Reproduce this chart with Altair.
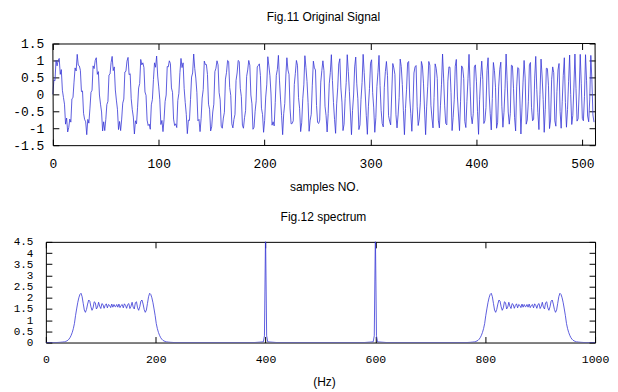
import altair as alt
import pandas as pd

# ---------------- data ----------------
signal = [
    0.00, .43, .40, 1.00, .84, 1.00, 1.06, .59, .73, .12, -.09, -.29, -.88, -.70, -1.11, -.98, -.73, -.82, -.13, -.10,
    .36, .78, .69, 1.18, .86, .84, .71, .08, .10, -.56, -.74, -.81, -1.19, -.74, -.85, -.43, .06, .12, .84, .76,
    1.00, 1.08, .59, .67, -.02, -.29, -.52, -1.08, -.81, -1.07, -.74, -.30, -.21, .57, .60, .94, 1.12, .70, .81, .13,
    -.17, -.44, -1.04, -.80, -1.07, -.73, -.26, -.14, .66, .68, .98, 1.09, .58, .61, -.13, -.45, -.67, -1.17, -.78, -.87,
    -.38, .19, .32, 1.03, .87, .93, .79, .07, -.03, -.76, -.92, -.88, -1.03, -.31, -.15, .44, .93, .80, 1.13, .54,
    .22, -.16, -.89, -.77, -1.10, -.75, -.21, -.02, .82, .81, .99, .91, .19, .06, -.73, -.92, -.87, -.98, -.18, .03,
    .64, 1.06, .79, .93, .17, -.24, -.59, -1.16, -.76, -.77, -.15, .51, .63, 1.19, .76, .48, .06, -.78, -.74, -1.10,
    -.72, -.11, .14, .98, .88, .88, .59, -.29, -.44, -1.08, -.96, -.52, -.29, .67, .77, .99, .87, .05, -.16, -.94,
    -1.00, -.70, -.53, .45, .65, 1.00, .97, .20, -.03, -.87, -.99, -.74, -.59, .41, .63, 1.00, .97, .18, -.07, -.91,
    -1.00, -.69, -.48, .53, .72, 1.00, .86, -.02, -.28, -1.03, -.97, -.50, -.19, .81, .85, .90, .56, -.41, -.59, -1.12,
    -.77, -.08, .28, 1.11, .84, .55, .01, -.91, -.81, -.93, -.24, .56, .73, 1.15, .42, -.14, -.63, -1.19, -.57, -.27,
    .54, 1.08, .72, .59, -.43, -.87, -.86, -.78, .29, .62, 1.00, .86, -.10, -.41, -1.10, -.84, -.13, .28, 1.14, .79,
    .38, -.24, -1.09, -.76, -.59, .27, .98, .78, .72, -.33, -.83, -.86, -.76, .36, .70, .99, .70, -.35, -.63, -1.11,
    -.57, .31, .64, 1.17, .41, -.24, -.74, -1.15, -.28, .19, .90, 1.05, .19, -.23, -1.07, -.88, -.13, .35, 1.17, .68,
    .09, -.55, -1.19, -.48, -.02, .81, 1.10, .31, -.13, -1.04, -.90, -.15, .35, 1.18, .64, .01, -.63, -1.18, -.35, .17,
    .92, 1.02, .05, -.40, -1.12, -.69, .23, .65, 1.15, .26, -.47, -.86, -.96, .21, .67, .97, .55, -.63, -.79, -.90,
    .01, .91, .78, .59, -.60, -.99, -.61, -.10, 1.04, .82, .29, -.47, -1.19, -.42, .15, .93, .97, -.11, -.57, -1.09,
    -.40, .63, .81, .85, -.35, -.92, -.73, -.25, .97, .84, .33, -.46, -1.19, -.37, .24, .97, .86, -.32, -.70, -.99,
    -.09, .90, .77, .47, -.76, -.99, -.34, .30, 1.19, .48, -.34, -.86, -.90, .39, .81, .80, .05, -1.07, -.68, -.16,
    .83, 1.03, -.05, -.58, -1.07, -.22, .84, .78, .47, -.80, -.98, -.21, .46, 1.18, .24, -.63, -.87, -.56, .81, .87,
    .37, -.50, -1.18, -.16, .52, .98, .44, -.86, -.78, -.39, .71, 1.08, .01, -.57, -1.05, -.12, .94, .70, .21, -1.00,
    -.84, .22, .74, .95, -.35, -.97, -.53, .18, 1.19, .40, -.52, -.88, -.56, .86, .84, .18, -.69, -1.08, .22, .79,
    .76, -.14, -1.17, -.40, .36, 1.00, .48, -.88, -.76, -.22, .87, .94, -.38, -.78, -.73, .48, 1.12, .14, -.54, -1.04,
    .00, 1.04, .54, -.15, -1.12, -.44, .77, .76, .27, -1.01, -.76, .43, .81, .64, -.78, -.94, .08, .72, .91, -.51,
    -1.00, -.22, .56, 1.08, -.24, -.97, -.45, .37, 1.16, .00, -.89, -.62, .19, 1.19, .18, -.79, -.72, .04, 1.18, .31,
    -.71, -.78, -.07, 1.17, .40, -.64, -.81, -.14, 1.15, .44, -.61, -.82,
]
samples = list(range(len(signal)))

band_lo_hz = [20, 26, 30, 34, 36, 38, 40, 42, 44, 46, 48, 50, 52, 54, 56, 58, 60, 62, 64, 66, 68, 70, 72, 74, 76,
              78, 80, 82, 84, 86, 88, 90, 92, 94, 96, 98, 100, 102, 104, 106, 108, 110, 112, 114, 116, 118, 120,
              122, 124, 126, 127, 129, 131, 133, 135, 137, 139, 141, 143, 145, 147, 149, 151, 153, 155, 157, 159,
              161, 163, 165, 167, 169, 171, 173, 175, 177, 179, 181, 183, 185, 187, 189, 191, 193, 195, 197, 199,
              201, 203, 205, 207, 209, 211, 213, 215, 217, 219, 223, 227, 233]
band_lo_mag = [0.0, 0.01, 0.02, 0.03, 0.05, 0.07, 0.1, 0.15, 0.22, 0.32, 0.45, 0.62, 0.85, 1.2, 1.5, 1.78, 2.0,
               2.15, 2.2, 2.05, 1.75, 1.45, 1.35, 1.48, 1.72, 1.9, 1.85, 1.6, 1.44, 1.55, 1.82, 1.78, 1.5, 1.58,
               1.8, 1.62, 1.52, 1.74, 1.7, 1.53, 1.66, 1.73, 1.55, 1.7, 1.66, 1.56, 1.72, 1.58, 1.7, 1.6, 1.6,
               1.7, 1.58, 1.72, 1.56, 1.66, 1.7, 1.55, 1.73, 1.66, 1.53, 1.7, 1.74, 1.52, 1.62, 1.8, 1.58, 1.5,
               1.78, 1.82, 1.55, 1.44, 1.6, 1.85, 1.9, 1.72, 1.48, 1.35, 1.45, 1.75, 2.05, 2.2, 2.15, 2.0, 1.78,
               1.5, 1.2, 0.85, 0.62, 0.45, 0.32, 0.22, 0.15, 0.1, 0.07, 0.05, 0.03, 0.02, 0.01, 0.0]

spike_400_hz = [380, 396, 398, 400, 402, 404, 420]
spike_400_mag = [0.0, 0.03, 0.3, 4.9, 0.3, 0.03, 0.0]
spike_600_hz = [580, 596, 598, 600, 602, 604, 620]
spike_600_mag = [0.0, 0.03, 0.3, 4.9, 0.3, 0.03, 0.0]

band_hi_hz = [767, 773, 777, 781, 783, 785, 787, 789, 791, 793, 795, 797, 799, 801, 803, 805, 807, 809, 811, 813,
              815, 817, 819, 821, 823, 825, 827, 829, 831, 833, 835, 837, 839, 841, 843, 845, 847, 849, 851, 853,
              855, 857, 859, 861, 863, 865, 867, 869, 871, 873, 874, 876, 878, 880, 882, 884, 886, 888, 890, 892,
              894, 896, 898, 900, 902, 904, 906, 908, 910, 912, 914, 916, 918, 920, 922, 924, 926, 928, 930, 932,
              934, 936, 938, 940, 942, 944, 946, 948, 950, 952, 954, 956, 958, 960, 962, 964, 966, 970, 974, 980]
band_hi_mag = [0.0, 0.01, 0.02, 0.03, 0.05, 0.07, 0.1, 0.15, 0.22, 0.32, 0.45, 0.62, 0.85, 1.2, 1.5, 1.78, 2.0,
               2.15, 2.2, 2.05, 1.75, 1.45, 1.35, 1.48, 1.72, 1.9, 1.85, 1.6, 1.44, 1.55, 1.82, 1.78, 1.5, 1.58,
               1.8, 1.62, 1.52, 1.74, 1.7, 1.53, 1.66, 1.73, 1.55, 1.7, 1.66, 1.56, 1.72, 1.58, 1.7, 1.6, 1.6,
               1.7, 1.58, 1.72, 1.56, 1.66, 1.7, 1.55, 1.73, 1.66, 1.53, 1.7, 1.74, 1.52, 1.62, 1.8, 1.58, 1.5,
               1.78, 1.82, 1.55, 1.44, 1.6, 1.85, 1.9, 1.72, 1.48, 1.35, 1.45, 1.75, 2.05, 2.2, 2.15, 2.0, 1.78,
               1.5, 1.2, 0.85, 0.62, 0.45, 0.32, 0.22, 0.15, 0.1, 0.07, 0.05, 0.03, 0.02, 0.01, 0.0]

spec_hz = [0] + band_lo_hz + spike_400_hz + spike_600_hz + band_hi_hz + [1000]
spec_mag = [0.0] + band_lo_mag + spike_400_mag + spike_600_mag + band_hi_mag + [0.0]

x_ticks_top = [0, 100, 200, 300, 400, 500]
y_ticks_top = [-1.5, -1, -0.5, 0, 0.5, 1, 1.5]
x_ticks_bot = [0, 200, 400, 600, 800, 1000]
y_ticks_bot = [0, 0.5, 1, 1.5, 2, 2.5, 3, 3.5, 4, 4.5]

sig_df = pd.DataFrame({"n": samples, "v": signal})
spec_df = pd.DataFrame({"f": spec_hz, "m": spec_mag})

MONO = "Liberation Mono"
SANS = "Liberation Sans"
LINE = "#3636d6"

W = 551           # common panel width (both plot areas share their left origin)
H_TOP, H_BOT = 102, 101
Y_EXT = 37        # width reserved for the y labels of both panels
TOP_INSET = 7     # the upper frame starts 7 px right of the lower one
X_TOP_MAX = 512
X_TOP_MIN = -X_TOP_MAX * TOP_INSET / (W - TOP_INSET)


def lab_axis_x(vals, fs, lp, title, tpad):
    return alt.Axis(values=vals, ticks=False, domain=False, grid=False,
                    labelExpr="toString(datum.value)", labelFont=MONO, labelFontSize=fs,
                    labelColor="black", labelPadding=lp, labelFlush=False, labelOverlap=False,
                    title=title, titleFont=SANS, titleFontSize=12, titleFontWeight="normal",
                    titleColor="black", titlePadding=tpad, titleX=279)


def lab_axis_y(vals, fs, lp):
    return alt.Axis(values=vals, ticks=False, domain=False, grid=False,
                    labelExpr="toString(datum.value)", labelFont=MONO, labelFontSize=fs,
                    labelColor="black", labelPadding=lp, labelFlush=False, labelOverlap=False,
                    title=None, minExtent=Y_EXT, maxExtent=Y_EXT)


def tick_axis(orient, offset, vals):
    return alt.Axis(orient=orient, offset=offset, values=vals, labels=False, domain=False,
                    grid=False, ticks=True, tickSize=6, tickColor="black", tickWidth=1,
                    title=None, minExtent=0, maxExtent=6)


def title(text, off):
    return alt.Title(text, font=SANS, fontSize=12, fontWeight="normal", color="black",
                     frame="group", anchor="middle", offset=off, dx=3)


# ---------------- upper panel: the signal ----------------
xs_t = alt.Scale(domain=[X_TOP_MIN, X_TOP_MAX], nice=False, zero=False)
ys_t = alt.Scale(domain=[-1.5, 1.5], nice=False, zero=False)
frame_df = pd.DataFrame({
    "x": [0, X_TOP_MAX, 0, 0],
    "x2": [0, X_TOP_MAX, X_TOP_MAX, X_TOP_MAX],
    "y": [-1.5, -1.5, 1.5, -1.5],
    "y2": [1.5, 1.5, 1.5, -1.5],
})
sig = alt.Chart(sig_df)
top_line = sig.mark_line(color=LINE, strokeWidth=0.8, clip=True).encode(
    x=alt.X("n:Q", scale=xs_t, axis=lab_axis_x(x_ticks_top, 13, 12, "samples NO.", 11)),
    y=alt.Y("v:Q", scale=ys_t, axis=lab_axis_y(y_ticks_top, 13, 2)),
)
top_t1 = sig.mark_line(opacity=0).encode(
    x=alt.X("n:Q", scale=xs_t, axis=tick_axis("top", -H_TOP, x_ticks_top)),
    y=alt.Y("v:Q", scale=ys_t, axis=tick_axis("right", TOP_INSET - W, y_ticks_top)),
)
top_t2 = sig.mark_line(opacity=0).encode(
    x=alt.X("n:Q", scale=xs_t, axis=tick_axis("bottom", -H_TOP, x_ticks_top)),
    y=alt.Y("v:Q", scale=ys_t, axis=tick_axis("left", -W, y_ticks_top)),
)
top_frame = alt.Chart(frame_df).mark_rule(color="black", strokeWidth=1, xOffset=0.5, yOffset=0.5).encode(
    x=alt.X("x:Q", scale=xs_t, axis=None), x2="x2",
    y=alt.Y("y:Q", scale=ys_t, axis=None), y2="y2",
)
top = alt.layer(top_line, top_t1, top_t2, top_frame).resolve_axis(
    x="independent", y="independent"
).properties(
    width=W, height=H_TOP, title=title("Fig.11 Original Signal", 14),
    view=alt.ViewBackground(stroke="transparent"),
)

# ---------------- lower panel: the spectrum ----------------
xs_b = alt.Scale(domain=[0, 1000], nice=False, zero=False)
ys_b = alt.Scale(domain=[0, 4.5], nice=False, zero=False)
spec = alt.Chart(spec_df)
bot_line = spec.mark_line(color=LINE, strokeWidth=0.8, clip=True).encode(
    x=alt.X("f:Q", scale=xs_b, axis=lab_axis_x(x_ticks_bot, 11.5, 11, "(Hz)", 12)),
    y=alt.Y("m:Q", scale=ys_b, axis=lab_axis_y(y_ticks_bot, 11, 13)),
)
bot_t1 = spec.mark_line(opacity=0).encode(
    x=alt.X("f:Q", scale=xs_b, axis=tick_axis("top", -H_BOT, x_ticks_bot)),
    y=alt.Y("m:Q", scale=ys_b, axis=tick_axis("right", -W, y_ticks_bot)),
)
bot_t2 = spec.mark_line(opacity=0).encode(
    x=alt.X("f:Q", scale=xs_b, axis=tick_axis("bottom", -H_BOT, x_ticks_bot)),
    y=alt.Y("m:Q", scale=ys_b, axis=tick_axis("left", -W, y_ticks_bot)),
)
bottom = alt.layer(bot_line, bot_t1, bot_t2).resolve_axis(
    x="independent", y="independent"
).properties(
    width=W, height=H_BOT, title=title("Fig.12 spectrum", 9),
    view=alt.ViewBackground(stroke="black", strokeWidth=1),
)

chart = alt.concat(top, bottom, columns=1, spacing=17).properties(
    padding={"left": 0, "top": 1, "right": 0, "bottom": 0},
    background="white",
)

chart.save("out.html", embed_options={"renderer": "svg", "actions": False})
